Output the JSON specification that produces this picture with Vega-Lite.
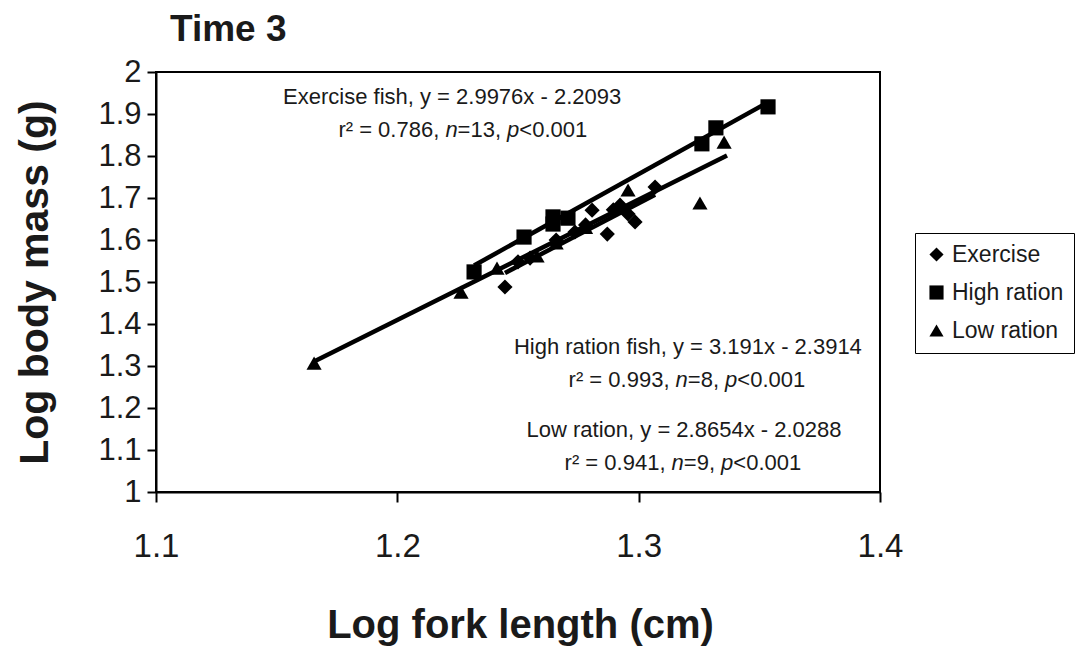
{
  "$schema": "https://vega.github.io/schema/vega-lite/v6.json",
  "autosize": "none",
  "width": 724,
  "height": 420,
  "padding": {"left": 156, "top": 72, "right": 201, "bottom": 154},
  "background": "white",
  "config": {
    "font": "Liberation Sans",
    "view": {"stroke": "black", "strokeWidth": 2},
    "axis": {"grid": false, "domainColor": "black", "domainWidth": 2, "tickColor": "black", "tickWidth": 2, "labelColor": "#1a1a1a", "titleColor": "#1a1a1a", "labelFont": "Liberation Sans", "titleFont": "Liberation Sans", "labelFlush": false}
  },
  "title": {
    "text": "Time 3",
    "anchor": "start",
    "frame": "group",
    "dx": 14,
    "offset": 7,
    "fontSize": 37,
    "fontWeight": "bold",
    "color": "#1a1a1a",
    "font": "Liberation Sans"
  },
  "datasets": {
    "fish": [
      {"group": "High ration", "length": 1.2318, "mass": 1.524},
      {"group": "High ration", "length": 1.2525, "mass": 1.607},
      {"group": "High ration", "length": 1.2645, "mass": 1.655},
      {"group": "High ration", "length": 1.2645, "mass": 1.638},
      {"group": "High ration", "length": 1.2707, "mass": 1.652},
      {"group": "High ration", "length": 1.3262, "mass": 1.829},
      {"group": "High ration", "length": 1.332, "mass": 1.867},
      {"group": "High ration", "length": 1.3536, "mass": 1.917},
      {"group": "Low ration", "length": 1.1655, "mass": 1.307},
      {"group": "Low ration", "length": 1.2264, "mass": 1.476},
      {"group": "Low ration", "length": 1.2413, "mass": 1.533},
      {"group": "Low ration", "length": 1.2579, "mass": 1.562},
      {"group": "Low ration", "length": 1.2658, "mass": 1.593},
      {"group": "Low ration", "length": 1.2956, "mass": 1.719},
      {"group": "Low ration", "length": 1.3254, "mass": 1.688},
      {"group": "Low ration", "length": 1.3354, "mass": 1.833},
      {"group": "Low ration", "length": 1.278, "mass": 1.63},
      {"group": "Exercise", "length": 1.2446, "mass": 1.488},
      {"group": "Exercise", "length": 1.25, "mass": 1.548},
      {"group": "Exercise", "length": 1.255, "mass": 1.557},
      {"group": "Exercise", "length": 1.2658, "mass": 1.6},
      {"group": "Exercise", "length": 1.2736, "mass": 1.619},
      {"group": "Exercise", "length": 1.278, "mass": 1.636},
      {"group": "Exercise", "length": 1.2807, "mass": 1.671},
      {"group": "Exercise", "length": 1.287, "mass": 1.614},
      {"group": "Exercise", "length": 1.2923, "mass": 1.683},
      {"group": "Exercise", "length": 1.2956, "mass": 1.662},
      {"group": "Exercise", "length": 1.2985, "mass": 1.643},
      {"group": "Exercise", "length": 1.3068, "mass": 1.726},
      {"group": "Exercise", "length": 1.2895, "mass": 1.672}
    ],
    "fits": [
      {"group": "Exercise", "length": 1.2446, "mass": 1.5215},
      {"group": "Exercise", "length": 1.3068, "mass": 1.708},
      {"group": "High ration", "length": 1.2318, "mass": 1.5393},
      {"group": "High ration", "length": 1.3536, "mass": 1.928},
      {"group": "Low ration", "length": 1.1655, "mass": 1.3108},
      {"group": "Low ration", "length": 1.3366, "mass": 1.8011}
    ],
    "equations": [
      {"note": "Exercise fish, y = 2.9976x - 2.2093", "length": 1.2227, "mass": 1.9405},
      {"note": "High ration fish, y = 3.191x - 2.3914", "length": 1.3204, "mass": 1.3452},
      {"note": "Low ration, y = 2.8654x - 2.0288", "length": 1.3188, "mass": 1.1476}
    ],
    "stats": [
      {"note": "r² = 0.786, ", "length": 1.17558, "mass": 1.862},
      {"note": "=13, ", "length": 1.22497, "mass": 1.862},
      {"note": "<0.001", "length": 1.25054, "mass": 1.862},
      {"note": "r² = 0.993, ", "length": 1.27097, "mass": 1.2667},
      {"note": "=8, ", "length": 1.32036, "mass": 1.2667},
      {"note": "<0.001", "length": 1.34087, "mass": 1.2667},
      {"note": "r² = 0.941, ", "length": 1.26931, "mass": 1.069},
      {"note": "=9, ", "length": 1.3187, "mass": 1.069},
      {"note": "<0.001", "length": 1.33921, "mass": 1.069}
    ],
    "statSymbols": [
      {"note": "n", "length": 1.21992, "mass": 1.862},
      {"note": "p", "length": 1.24548, "mass": 1.862},
      {"note": "n", "length": 1.3153, "mass": 1.2667},
      {"note": "p", "length": 1.33581, "mass": 1.2667},
      {"note": "n", "length": 1.31365, "mass": 1.069},
      {"note": "p", "length": 1.33416, "mass": 1.069}
    ]
  },
  "encoding": {
    "x": {
      "field": "length",
      "type": "quantitative",
      "scale": {"domain": [1.1, 1.4], "nice": false, "zero": false},
      "axis": {
        "values": [1.1, 1.2, 1.3, 1.4],
        "format": ".1f",
        "title": "Log fork length (cm)",
        "labelFontSize": 33,
        "labelPadding": 28,
        "tickSize": 10,
        "titleFontSize": 40,
        "titleFontWeight": "bold",
        "titleX": 364,
        "titleY": 133,
        "titleBaseline": "middle"
      }
    },
    "y": {
      "field": "mass",
      "type": "quantitative",
      "scale": {"domain": [1, 2], "nice": false, "zero": false},
      "axis": {
        "values": [1, 1.1, 1.2, 1.3, 1.4, 1.5, 1.6, 1.7, 1.8, 1.9, 2],
        "format": ".1~f",
        "title": "Log body mass (g)",
        "labelFontSize": 31,
        "labelPadding": 6,
        "tickSize": 9,
        "titleFontSize": 41,
        "titleFontWeight": "bold",
        "titleAngle": -90,
        "titleX": -121,
        "titleY": 210,
        "titleBaseline": "middle",
        "titleAlign": "center"
      }
    }
  },
  "layer": [
    {
      "data": {"name": "fits"},
      "mark": {"type": "line", "color": "black", "strokeWidth": 4.5},
      "encoding": {"detail": {"field": "group"}}
    },
    {
      "data": {"name": "fish"},
      "mark": {"type": "point", "filled": true, "color": "black", "opacity": 1},
      "encoding": {
        "shape": {
          "field": "group",
          "type": "nominal",
          "scale": {"domain": ["Exercise", "High ration", "Low ration"], "range": ["diamond", "square", "triangle-up"]},
          "legend": {
            "title": null,
            "orient": "none",
            "legendX": 759,
            "legendY": 161,
            "padding": 10,
            "strokeColor": "black",
            "labelFontSize": 23,
            "labelColor": "#1a1a1a",
            "labelFont": "Liberation Sans",
            "labelOffset": 4,
            "rowPadding": 14,
            "symbolSize": 200,
            "symbolFillColor": "black",
            "symbolStrokeColor": "black"
          }
        },
        "size": {"value": 230}
      }
    },
    {
      "data": {"name": "equations"},
      "mark": {"type": "text", "fontSize": 22, "color": "#1a1a1a", "align": "center", "baseline": "middle", "font": "Liberation Sans"},
      "encoding": {"text": {"field": "note"}}
    },
    {
      "data": {"name": "stats"},
      "mark": {"type": "text", "fontSize": 22, "color": "#1a1a1a", "align": "left", "baseline": "middle", "font": "Liberation Sans"},
      "encoding": {"text": {"field": "note"}}
    },
    {
      "data": {"name": "statSymbols"},
      "mark": {"type": "text", "fontSize": 22, "fontStyle": "italic", "color": "#1a1a1a", "align": "left", "baseline": "middle", "font": "Liberation Sans"},
      "encoding": {"text": {"field": "note"}}
    }
  ]
}
